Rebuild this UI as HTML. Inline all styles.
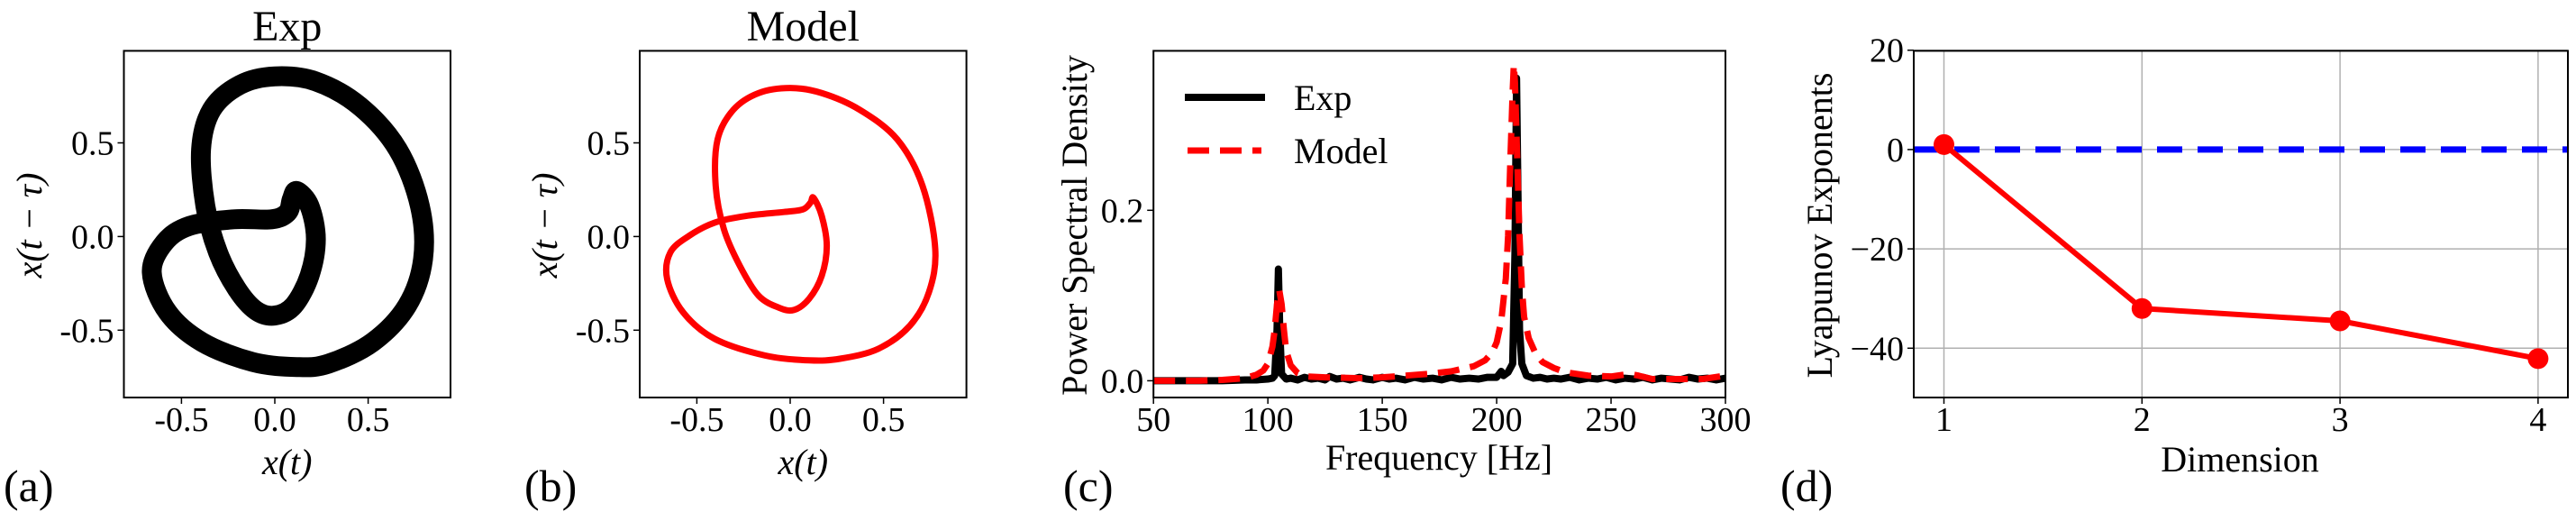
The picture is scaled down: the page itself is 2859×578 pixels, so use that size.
<!DOCTYPE html>
<html><head><meta charset="utf-8"><style>
html,body{margin:0;padding:0;background:#fff;}
svg{display:block;}
svg text{font-family:"Liberation Serif","Times New Roman",serif;}
</style></head><body>
<svg id="fig" font-family="Liberation Serif, serif" width="2859" height="578" viewBox="0 0 2859 578" xmlns="http://www.w3.org/2000/svg"></svg>
<script>
// ---- Panel (a) Exp phase portrait: x(t), x(t-tau)
const expX = [0.118,0.186,0.22,0.186,0.101,0,-0.101,-0.203,-0.304,-0.372,-0.395,-0.338,-0.186,0,0.22,0.456,0.659,0.777,0.794,0.709,0.524,0.287,0.118,-0.118,-0.389,-0.574,-0.659,-0.591,-0.456,-0.22,-0.017,0.068,0.091];
const expY = [0.243,0.163,-0.014,-0.209,-0.369,-0.422,-0.395,-0.28,-0.085,0.163,0.465,0.677,0.81,0.855,0.828,0.695,0.465,0.163,-0.121,-0.369,-0.564,-0.679,-0.697,-0.67,-0.564,-0.404,-0.191,-0.032,0.057,0.092,0.092,0.128,0.199];
// ---- Panel (b) Model phase portrait
const modX = [0.125,0.169,0.196,0.169,0.101,0.02,-0.06,-0.169,-0.27,-0.355,-0.399,-0.389,-0.304,-0.169,0,0.169,0.372,0.574,0.709,0.777,0.743,0.642,0.473,0.27,0.101,-0.135,-0.405,-0.574,-0.659,-0.642,-0.541,-0.405,-0.236,-0.034,0.068,0.108];
const modY = [0.207,0.11,-0.05,-0.21,-0.333,-0.392,-0.38,-0.316,-0.156,0.039,0.27,0.518,0.677,0.766,0.793,0.766,0.677,0.518,0.27,-0.067,-0.298,-0.475,-0.599,-0.652,-0.661,-0.635,-0.546,-0.404,-0.227,-0.085,0.004,0.074,0.11,0.131,0.145,0.18];
const phaseTicks = [-0.5,0.0,0.5];
const phaseTickLabels = ["-0.5","0.0","0.5"];
// ---- Panel (c) PSD
const expFreq = [50,60,70,80,90,95,100,102,103,104,104.6,105.2,106,108,110,113,116,119,122,125,127,130,133,136,140,143,146,150,153,156,160,164,168,172,176,180,184,188,192,196,200,202,203,205,207,208,208.7,209.4,210,211,213,216,219,222,225,228,232,236,240,244,248,252,256,260,264,268,272,276,280,284,288,292,296,300];
const expPsd  = [0,0,0,0,0.001,0.001,0.002,0.003,0.006,0.06,0.131,0.06,0.008,0.002,0.003,0.001,0.004,0.002,0.003,0.001,0.005,0.002,0.003,0.001,0.004,0.002,0.001,0.004,0.002,0.003,0.001,0.004,0.002,0.003,0.001,0.004,0.002,0.003,0.002,0.004,0.004,0.011,0.006,0.01,0.02,0.15,0.355,0.2,0.06,0.02,0.006,0.003,0.004,0.002,0.003,0.002,0.004,0.001,0.003,0.002,0.004,0.001,0.003,0.002,0.004,0.001,0.003,0.002,0.001,0.004,0.002,0.003,0.001,0.003];
const modFreq = [50,60,70,80,90,95,98,100,102,103,104,105,106,107,108,110,113,117,125,140,150,160,170,180,190,195,198,200,202,204,205,206,207,207.5,208,209,210,211,212,214,217,220,225,230,240,250,258,262,268,280,290,300];
const modPsd  = [0,0,0,0.001,0.003,0.007,0.012,0.02,0.04,0.06,0.09,0.106,0.09,0.06,0.035,0.018,0.009,0.005,0.004,0.003,0.004,0.006,0.008,0.011,0.017,0.024,0.033,0.045,0.07,0.12,0.17,0.26,0.34,0.371,0.35,0.26,0.17,0.11,0.075,0.05,0.032,0.022,0.015,0.01,0.006,0.005,0.008,0.006,0.002,0.002,0.002,0.006];
const psdXTicks = [50,100,150,200,250,300];
const psdYTicks = [0.0,0.2];
const psdYTickLabels = ["0.0","0.2"];
// ---- Panel (d) Lyapunov exponents
const dims = [1,2,3,4];
const lyap = [1.0,-32.0,-34.5,-42.1];
const lyapYTicks = [20,0,-20,-40];
const lyapYTickLabels = ["20","0","\u221220","\u221240"];

const NS="http://www.w3.org/2000/svg";
const svg=document.getElementById('fig');
const FONT='"Liberation Serif", serif';
function el(tag,attrs,parent,text){const e=document.createElementNS(NS,tag);for(const k in attrs)e.setAttribute(k,attrs[k]);if(tag==='text')e.style.fontFamily=FONT;if(text!==undefined)e.textContent=text;(parent||svg).appendChild(e);return e;}
function lin(d0,d1,p0,p1){return v=>p0+(v-d0)*(p1-p0)/(d1-d0);}
function smoothClosed(pts){let d='';const n=pts.length;for(let i=0;i<n;i++){const p0=pts[(i-1+n)%n],p1=pts[i],p2=pts[(i+1)%n],p3=pts[(i+2)%n];if(i===0)d+=`M${p1[0]},${p1[1]}`;const c1=[p1[0]+(p2[0]-p0[0])/6,p1[1]+(p2[1]-p0[1])/6],c2=[p2[0]-(p3[0]-p1[0])/6,p2[1]-(p3[1]-p1[1])/6];d+=`C${c1[0]},${c1[1]} ${c2[0]},${c2[1]} ${p2[0]},${p2[1]}`;}return d+'Z';}
const TOP=56.4,BOT=441;

function phasePanel(x0,x1,xz,name,xs,ys,color,sw,title,label,lx){
  const g=el('g',{});
  
  
  const sx=lin(0,0.5,xz,xz+103.6), sy=lin(0,0.5,262.4,158.5);
  const clip=el('clipPath',{id:name+'-clip'},g);el('rect',{x:x0,y:TOP,width:x1-x0,height:BOT-TOP},clip);
  const pts=xs.map((v,i)=>[sx(v),sy(ys[i])]);
  const t=el('text',{x:(x0+x1)/2,y:45,'font-size':48,'text-anchor':'middle'},g,title);
  
  
  const pg=el('g',{'clip-path':`url(#${name}-clip)`},g);
  const p=el('path',{d:smoothClosed(pts),fill:'none',stroke:color,'stroke-width':sw,'stroke-linejoin':'round'},pg);
  
  
  el('rect',{x:x0,y:TOP,width:x1-x0,height:BOT-TOP,fill:'none',stroke:'#000','stroke-width':2},g);
  phaseTicks.forEach((v,i)=>{
    el('line',{x1:sx(v),x2:sx(v),y1:BOT,y2:BOT+7,stroke:'#000','stroke-width':1.5},g);
    const a=el('text',{x:sx(v),y:478,'font-size':38,'text-anchor':'middle'},g,phaseTickLabels[i]);
    
    
    el('line',{x1:x0,x2:x0-7,y1:sy(v),y2:sy(v),stroke:'#000','stroke-width':1.5},g);
    const b=el('text',{x:x0-11,y:sy(v)+13,'font-size':38,'text-anchor':'end'},g,phaseTickLabels[i]);
    
    
  });
  const xl=el('text',{x:(x0+x1)/2,y:526,'font-size':40,'font-style':'italic','text-anchor':'middle'},g,'x(t)');
  
  
  const yl=el('text',{x:0,y:0,'font-size':40,'font-style':'italic','text-anchor':'middle',transform:`translate(${lx},250) rotate(-90)`},g,'x(t \u2212 \u03c4)');
  
  
  const pl=el('text',{x:label[1],y:556,'font-size':50},g,label[0]);
  
  
}
phasePanel(137.5,500,305,'panel-a-exp',expX,expY,'#000',22,'Exp',['(a)',4],46);
phasePanel(710,1072.6,877,'panel-b-model',modX,modY,'#ff0000',7,'Model',['(b)',582],618);

// Panel c
(function(){
  const g=el('g',{});
  
  
  const X0=1280.2,X1=1915;
  const sx=lin(50,300,X0,X1), sy=lin(0,0.2,422.4,233.3);
  el('clipPath',{id:'cclip'},g).appendChild(el('rect',{x:X0,y:TOP,width:X1-X0,height:BOT-TOP},g));
  const cg=el('g',{'clip-path':'url(#cclip)'},g);
  const e=el('path',{d:'M'+expFreq.map((f,i)=>sx(f)+','+sy(expPsd[i])).join('L'),fill:'none',stroke:'#000','stroke-width':8,'stroke-linejoin':'round'},cg);
  
  
  const m=el('path',{d:'M'+modFreq.map((f,i)=>sx(f)+','+sy(modPsd[i])).join('L'),fill:'none',stroke:'#ff0000','stroke-width':7,'stroke-dasharray':'24 12','stroke-linejoin':'round'},cg);
  
  
  el('rect',{x:X0,y:TOP,width:X1-X0,height:BOT-TOP,fill:'none',stroke:'#000','stroke-width':2},g);
  psdXTicks.forEach(v=>{
    el('line',{x1:sx(v),x2:sx(v),y1:BOT,y2:BOT+7,stroke:'#000','stroke-width':1.5},g);
    const t=el('text',{x:sx(v),y:478,'font-size':38,'text-anchor':'middle'},g,String(v));
    
    
  });
  psdYTicks.forEach((v,i)=>{
    el('line',{x1:X0,x2:X0-7,y1:sy(v),y2:sy(v),stroke:'#000','stroke-width':1.5},g);
    const t=el('text',{x:X0-11,y:sy(v)+13,'font-size':38,'text-anchor':'end'},g,psdYTickLabels[i]);
    
    
  });
  const lg=el('g',{},g);
  
  
  el('line',{x1:1315,x2:1404,y1:108,y2:108,stroke:'#000','stroke-width':8},lg);
  el('text',{x:1436,y:122,'font-size':40},lg,'Exp');
  el('line',{x1:1318,x2:1400,y1:167,y2:167,stroke:'#ff0000','stroke-width':7,'stroke-dasharray':'24 12'},lg);
  el('text',{x:1436,y:181,'font-size':40},lg,'Model');
  const xl=el('text',{x:1597,y:521,'font-size':40,'text-anchor':'middle'},g,'Frequency [Hz]');
  
  
  const yl=el('text',{x:0,y:0,'font-size':40,'text-anchor':'middle',transform:'translate(1206,250) rotate(-90)'},g,'Power Spectral Density');
  
  
  const pl=el('text',{x:1180,y:556,'font-size':50},g,'(c)');
  
  
})();

// Panel d
(function(){
  const g=el('g',{});
  
  
  const X0=2124,X1=2850;
  const sx=lin(1,2,2157.5,2377.3), sy=lin(0,-20,165.9,276.1);
  dims.forEach(v=>el('line',{x1:sx(v),x2:sx(v),y1:TOP,y2:BOT,stroke:'#b0b0b0','stroke-width':1.5},g));
  lyapYTicks.forEach(v=>el('line',{x1:X0,x2:X1,y1:sy(v),y2:sy(v),stroke:'#b0b0b0','stroke-width':1.5},g));
  const z=el('line',{x1:X0,x2:X1,y1:sy(0),y2:sy(0),stroke:'#0000ff','stroke-width':7,'stroke-dasharray':'28 17'},g);
  
  
  const l=el('polyline',{points:dims.map((d,i)=>sx(d)+','+sy(lyap[i])).join(' '),fill:'none',stroke:'#ff0000','stroke-width':6,'stroke-linejoin':'round'},g);
  
  
  dims.forEach((d,i)=>{
    const c=el('circle',{cx:sx(d),cy:sy(lyap[i]),r:11.5,fill:'#ff0000'},g);
    
    
  });
  el('rect',{x:X0,y:TOP,width:X1-X0,height:BOT-TOP,fill:'none',stroke:'#000','stroke-width':2},g);
  dims.forEach(v=>{
    el('line',{x1:sx(v),x2:sx(v),y1:BOT,y2:BOT+7,stroke:'#000','stroke-width':1.5},g);
    const t=el('text',{x:sx(v),y:478,'font-size':38,'text-anchor':'middle'},g,String(v));
    
    
  });
  lyapYTicks.forEach((v,i)=>{
    el('line',{x1:X0,x2:X0-7,y1:sy(v),y2:sy(v),stroke:'#000','stroke-width':1.5},g);
    const t=el('text',{x:X0-11,y:sy(v)+13,'font-size':38,'text-anchor':'end'},g,lyapYTickLabels[i]);
    
    
  });
  const xl=el('text',{x:2486,y:523,'font-size':40,'text-anchor':'middle'},g,'Dimension');
  
  
  const yl=el('text',{x:0,y:0,'font-size':40,'text-anchor':'middle',transform:'translate(2033,250) rotate(-90)'},g,'Lyapunov Exponents');
  
  
  const pl=el('text',{x:1976,y:556,'font-size':50},g,'(d)');
  
  
})();
</script>
</body></html>
